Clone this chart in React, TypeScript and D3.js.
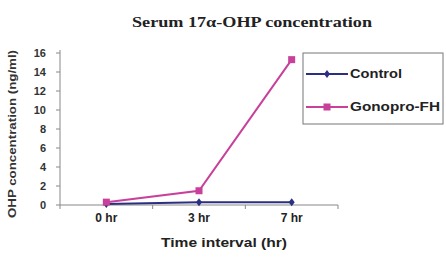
import * as d3 from 'd3';

const categories = ['0 hr', '3 hr', '7 hr'];
const controlValues = [0.1, 0.3, 0.3];
const gonoproValues = [0.3, 1.5, 15.3];
const yTicks = [0, 2, 4, 6, 8, 10, 12, 14, 16];

const W = 446;
const H = 258;
const left = 60;
const right = 338;
const top = 53;
const bottom = 205;

const x = d3.scaleBand().domain(categories).range([left, right]);
const y = d3.scaleLinear().domain([0, 16]).range([bottom, top]);

const line = d3
  .line<number>()
  .x((d, i) => (x(categories[i]) ?? 0) + x.bandwidth() / 2)
  .y(d => y(d));

const series = [
  { name: 'Control', values: controlValues, color: '#2a2f80', marker: 'diamond' },
  { name: 'Gonopro-FH', values: gonoproValues, color: '#c8409a', marker: 'square' },
];

const Marker = ({ cx, cy, type, color }) =>
  type === 'square' ? (
    <rect x={cx - 3.5} y={cy - 3.5} width={7} height={7} fill={color} />
  ) : (
    <path d={`M${cx},${cy - 4}L${cx + 3},${cy}L${cx},${cy + 4}L${cx - 3},${cy}Z`} fill={color} />
  );

export default function App() {
  const font = 'Arial, "Liberation Sans", sans-serif';
  return (
    <svg width={W} height={H} style={{ position: 'absolute', left: 0, top: 0, background: '#fff' }}>
      <text x={252} y={27} textAnchor="middle" fontFamily='"Liberation Serif", "Times New Roman", serif'
        fontWeight="bold" fontSize={14} textLength={240} lengthAdjust="spacingAndGlyphs" fill="#222">
        Serum 17α-OHP concentration
      </text>

      {/* y axis */}
      <line x1={left} x2={left} y1={top - 3} y2={bottom} stroke="#888" />
      {yTicks.map(t => (
        <g key={t}>
          <line x1={left - 4} x2={left} y1={y(t)} y2={y(t)} stroke="#888" />
          <text x={left - 14} y={y(t) + 4} textAnchor="end" fontFamily={font} fontWeight="bold"
            fontSize={11} fill="#333">{t}</text>
        </g>
      ))}
      <text transform={`translate(16,${(top + bottom) / 2 + 5}) rotate(-90)`} textAnchor="middle"
        fontFamily={font} fontWeight="bold" fontSize={11} textLength={168} lengthAdjust="spacingAndGlyphs"
        fill="#333">OHP concentration (ng/ml)</text>

      {/* x axis */}
      <line x1={left} x2={right} y1={bottom} y2={bottom} stroke="#888" />
      {[...categories.map(c => x(c) ?? 0), right].map((p, i) => (
        <line key={i} x1={p} x2={p} y1={bottom} y2={bottom + 4} stroke="#888" />
      ))}
      {categories.map(c => (
        <text key={c} x={(x(c) ?? 0) + x.bandwidth() / 2} y={222} textAnchor="middle"
          fontFamily={font} fontWeight="bold" fontSize={12} fill="#222">{c}</text>
      ))}
      <text x={224} y={247} textAnchor="middle" fontFamily={font} fontWeight="bold" fontSize={12}
        textLength={126} lengthAdjust="spacingAndGlyphs" fill="#222">Time interval (hr)</text>

      {/* series */}
      {series.map(s => (
        <g key={s.name}>
          <path d={line(s.values) ?? ''} fill="none" stroke={s.color} strokeWidth={2} />
          {s.values.map((v, i) => (
            <Marker key={i} cx={(x(categories[i]) ?? 0) + x.bandwidth() / 2} cy={y(v)} type={s.marker}
              color={s.color} />
          ))}
        </g>
      ))}

      {/* legend */}
      <rect x={303} y={53} width={140} height={71} fill="#fff" stroke="#777" />
      {series.map((s, i) => {
        const ly = 74 + i * 33;
        return (
          <g key={s.name}>
            <line x1={306} x2={348} y1={ly} y2={ly} stroke={s.color} strokeWidth={2} />
            <Marker cx={327} cy={ly} type={s.marker} color={s.color} />
            <text x={350} y={ly + 4} fontFamily={font} fontWeight="bold" fontSize={12}
              textLength={i === 0 ? 52 : 90} lengthAdjust="spacingAndGlyphs" fill="#222">{s.name}</text>
          </g>
        );
      })}
    </svg>
  );
}
